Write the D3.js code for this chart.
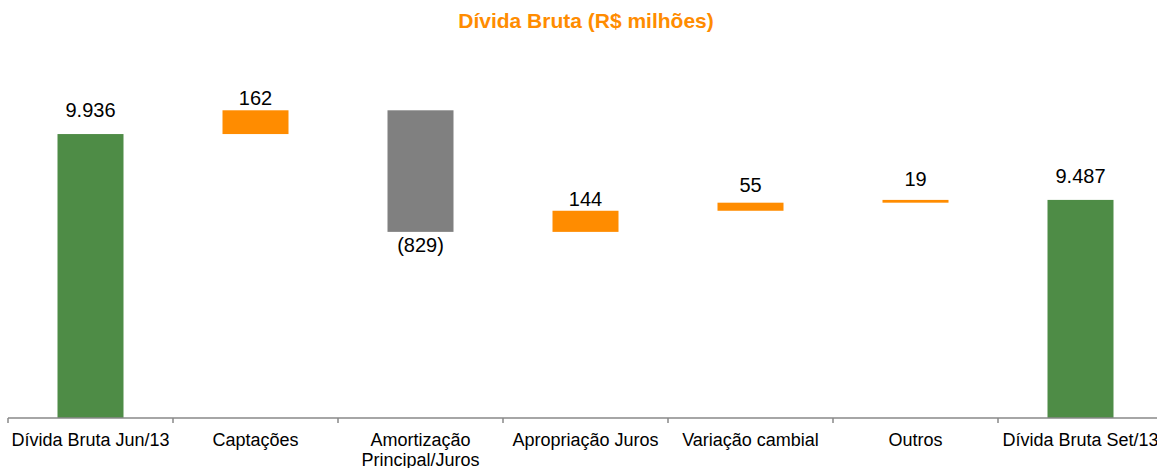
<!DOCTYPE html>
<html>
<head>
<meta charset="utf-8">
<script src="https://cdn.jsdelivr.net/npm/d3@7/dist/d3.min.js"></script>
<style>
  body { margin: 0; background: #fff; }
  svg { display: block; font-family: "Liberation Sans", Arial, sans-serif; }
</style>
</head>
<body>
<div id="chart"></div>
<script>
// data (R$ milhões)
var categories = ["Dívida Bruta Jun/13", "Captações", "Amortização Principal/Juros",
  "Apropriação Juros", "Variação cambial", "Outros", "Dívida Bruta Set/13"];
var values = [9936, 162, -829, 144, 55, 19, 9487];
var kinds = ["total", "delta", "delta", "delta", "delta", "delta", "total"];
var labels = ["9.936", "162", "(829)", "144", "55", "19", "9.487"];

var width = 1157, height = 468;
var baseY = 418;

var colors = { total: "#4E8C46", up: "#FF8C00", down: "#808080" };

// running totals for the waterfall
var running = 0;
var bars = values.map(function (v, i) {
  var start, end;
  if (kinds[i] === "total") {
    start = 8000; end = v; running = v;
  } else {
    start = running; end = running + v; running = end;
  }
  return {
    name: categories[i], label: labels[i], kind: kinds[i], value: v,
    lo: Math.min(start, end), hi: Math.max(start, end)
  };
});

var svg = d3.select("#chart").append("svg")
  .attr("width", width).attr("height", height);

var x = d3.scaleBand().domain(categories).range([8, 1163]).padding(0);
var y = d3.scaleLinear().domain([8000, 11000]).range([baseY, -22]);
var barW = 66;

svg.append("text")
  .attr("x", 586).attr("y", 28)
  .attr("text-anchor", "middle")
  .attr("font-size", "21px").attr("font-weight", "bold")
  .attr("fill", "#FF8C00")
  .text("Dívida Bruta (R$ milhões)");

svg.selectAll("rect.bar")
  .data(bars)
  .enter()
  .append("rect")
  .attr("class", "bar")
  .attr("x", function (d) { return x(d.name) + (x.bandwidth() - barW) / 2; })
  .attr("width", barW)
  .attr("y", function (d) { return y(d.hi); })
  .attr("height", function (d) { return Math.max(y(d.lo) - y(d.hi), 0); })
  .attr("fill", function (d) {
    if (d.kind === "total") return colors.total;
    return d.value < 0 ? colors.down : colors.up;
  });

svg.selectAll("text.val")
  .data(bars)
  .enter()
  .append("text")
  .attr("class", "val")
  .attr("x", function (d) { return x(d.name) + x.bandwidth() / 2; })
  .attr("y", function (d) {
    if (d.kind === "total") return y(d.hi) - 17;
    if (d.value < 0) return y(d.lo) + 20;
    var mid = (y(d.hi) + y(d.lo)) / 2;
    return Math.min(y(d.hi) - 5, mid - 15);
  })
  .attr("text-anchor", "middle")
  .attr("font-size", "20px")
  .attr("fill", "#000")
  .text(function (d) { return d.label; });

// axis
var axis = svg.append("g").attr("transform", "translate(0," + baseY + ")");
axis.append("line")
  .attr("x1", 8).attr("x2", width)
  .attr("y1", 0).attr("y2", 0)
  .attr("stroke", "#898989").attr("stroke-width", 1.5);

axis.selectAll("line.tick")
  .data(categories)
  .enter()
  .append("line")
  .attr("class", "tick")
  .attr("x1", function (d) { return x(d); })
  .attr("x2", function (d) { return x(d); })
  .attr("y1", 0).attr("y2", 5)
  .attr("stroke", "#898989").attr("stroke-width", 1.5);

var catText = axis.selectAll("text.cat")
  .data(categories)
  .enter()
  .append("text")
  .attr("class", "cat")
  .attr("x", function (d) { return x(d) + x.bandwidth() / 2; })
  .attr("y", 28)
  .attr("text-anchor", "middle")
  .attr("font-size", "18px")
  .attr("fill", "#000");

catText.each(function (d) {
  var t = d3.select(this);
  var words = d.split(" ");
  var line = [], lines = [];
  var probe = t.append("tspan");
  words.forEach(function (w) {
    line.push(w);
    probe.text(line.join(" "));
    if (probe.node().getComputedTextLength() > 164 && line.length > 1) {
      line.pop();
      lines.push(line.join(" "));
      line = [w];
    }
  });
  lines.push(line.join(" "));
  probe.remove();
  lines.forEach(function (l, i) {
    t.append("tspan")
      .attr("x", x(d) + x.bandwidth() / 2)
      .attr("dy", i === 0 ? 0 : "1.12em")
      .text(l);
  });
});
</script>
</body>
</html>
